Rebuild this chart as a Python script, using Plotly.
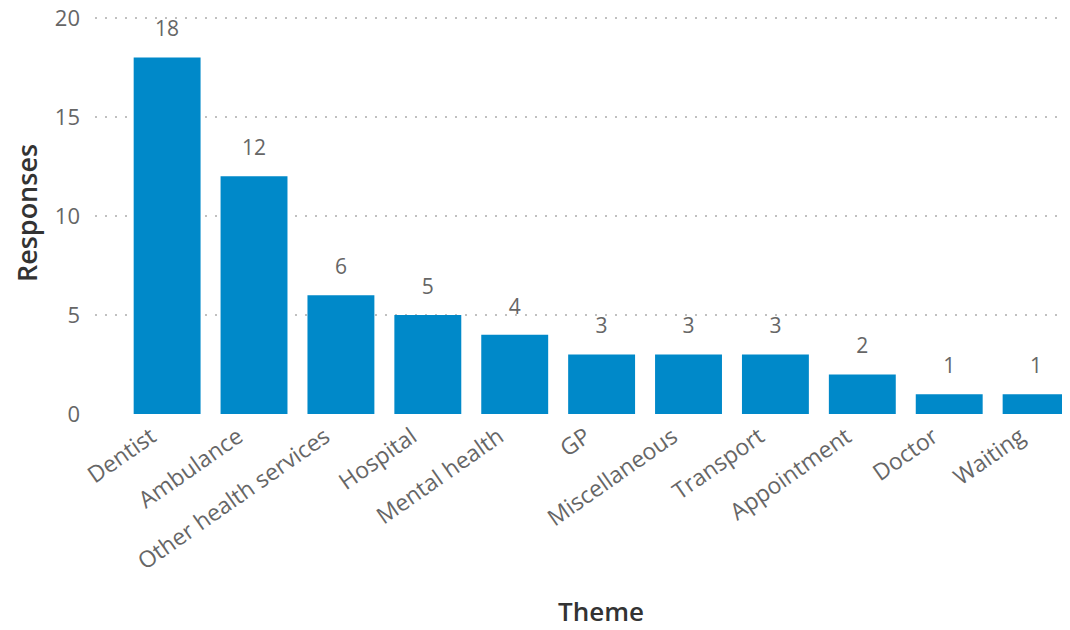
import plotly.graph_objects as go

themes = ["Dentist", "Ambulance", "Other health services", "Hospital", "Mental health",
          "GP", "Miscellaneous", "Transport", "Appointment", "Doctor", "Waiting"]
responses = [18, 12, 6, 5, 4, 3, 3, 3, 2, 1, 1]
y_ticks = [0, 5, 10, 15, 20]

font_family = "Open Sans, Noto Sans, sans-serif"

fig = go.Figure()
fig.add_trace(go.Bar(
    x=themes, y=responses,
    marker=dict(color="#0089C9", line=dict(width=0)),
    width=0.77,
    hoverinfo="x+y",
))
# data labels above bars
fig.add_trace(go.Scatter(
    x=themes, y=responses,
    mode="markers+text",
    marker=dict(size=24, opacity=0),
    text=[str(v) for v in responses],
    textposition="top center",
    textfont=dict(size=21, color="#666666", family=font_family),
    cliponaxis=False,
    hoverinfo="skip",
))

fig.update_layout(
    width=1062, height=622,
    margin=dict(l=87, r=0, t=4, b=216),
    paper_bgcolor="white", plot_bgcolor="white",
    showlegend=False,
    font=dict(family=font_family, color="#666666"),
    xaxis=dict(
        automargin=False,
        range=[-0.83, 10.39],
        tickangle=-35,
        tickfont=dict(size=23, color="#666666"),
        ticklabelshift=-16,
        ticklabelstandoff=4,
        showgrid=False, showline=False, zeroline=False, ticks="",
    ),
    yaxis=dict(
        automargin=False,
        range=[0, 20.3],
        tickvals=y_ticks,
        tickfont=dict(size=22, color="#666666"),
        ticklabelstandoff=14,
        ticklabeloverflow="allow",
        showgrid=True, gridcolor="#C0C0C0", griddash="2px,8px", gridwidth=2,
        zeroline=False, showline=False, ticks="", ticklen=0,
        title=dict(text="Responses", font=dict(size=27, color="#333333", weight=600), standoff=24),
    ),
    annotations=[dict(
        text="Theme", xref="paper", yref="paper",
        x=0.519, y=-0.49, xanchor="center", yanchor="middle",
        showarrow=False,
        font=dict(size=26, color="#333333", weight=600, family=font_family),
    )],
)

fig.write_html("out.html")
